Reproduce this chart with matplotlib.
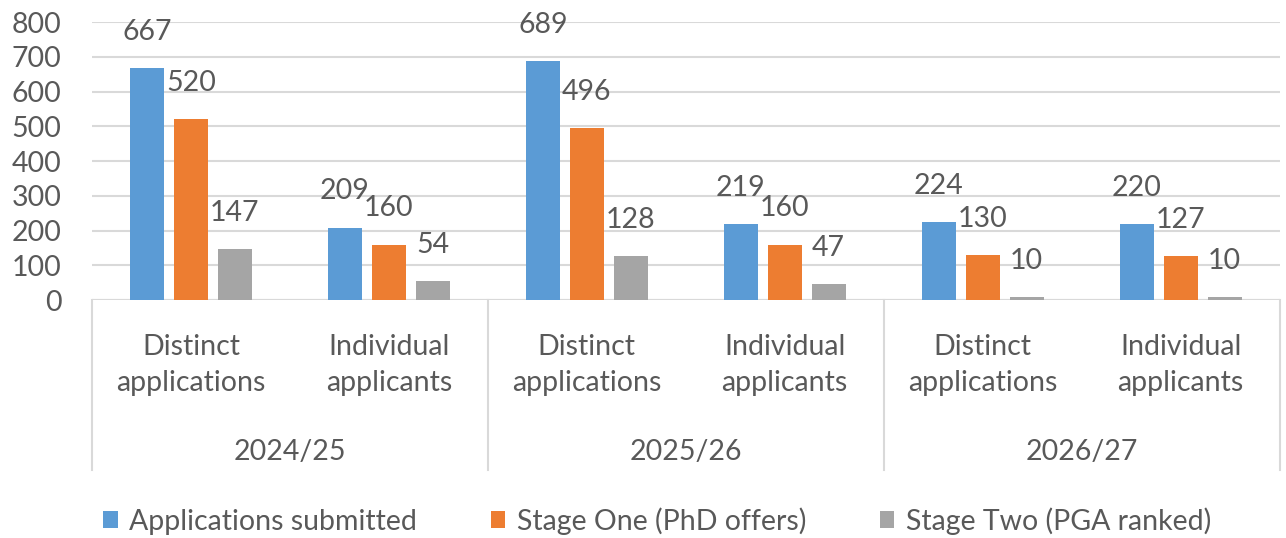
import numpy as np
import matplotlib.pyplot as plt
from matplotlib.transforms import blended_transform_factory

# data
years = ["2024/25", "2025/26", "2026/27"]
kinds = ["Distinct\napplications", "Individual\napplicants"]
series = ["Applications submitted", "Stage One (PhD offers)", "Stage Two (PGA ranked)"]
submitted = [667, 209, 689, 219, 224, 220]
stage_one = [520, 160, 496, 160, 130, 127]
stage_two = [147, 54, 128, 47, 10, 10]
colors = ["#5B9BD5", "#ED7D31", "#A5A5A5"]

txt = "#595959"
line = "#D9D9D9"
fs = 20.5
plt.rcParams['font.family'] = ['Lato', 'DejaVu Sans']

fig = plt.figure(figsize=(12.86, 5.38), dpi=100)
ax = fig.add_axes([0.0715, 0.442, 0.9235, 0.517])

x = np.arange(len(submitted))
width = 0.172
step = 0.222
for i, (vals, name) in enumerate(zip([submitted, stage_one, stage_two], series)):
    pos = x + (i - 1) * step
    ax.bar(pos, vals, width, color=colors[i], label=name, zorder=3)
    for p, v in zip(pos, vals):
        ax.annotate(str(v), (p, v), xytext=(0, 26), textcoords="offset points",
                    ha="center", va="center", fontsize=fs, color=txt, zorder=4)

ax.set_xlim(-0.5, len(submitted) - 0.5)
ax.set_ylim(0, 800)
ax.set_yticks(range(0, 801, 100))
ax.tick_params(axis="y", length=0, labelsize=fs, labelcolor=txt, pad=22)
ax.set_xticks([])
ax.yaxis.grid(True, color=line, linewidth=1.5, zorder=0)
for s in ax.spines.values():
    s.set_visible(False)
ax.axhline(0, color=line, linewidth=1.5, zorder=2)

# two-level category axis
tr = blended_transform_factory(ax.transData, fig.transFigure)
for i in x:
    ax.text(i, 0.322, kinds[i % 2], transform=tr, ha="center", va="center",
            fontsize=fs, color=txt, linespacing=1.5)
for j, y in enumerate(years):
    ax.text(2 * j + 0.5, 0.160, y, transform=tr, ha="center", va="center",
            fontsize=fs, color=txt)
for xs in np.arange(-0.5, len(submitted), 2):
    ax.plot([xs, xs], [0.442, 0.126], transform=tr, color=line, linewidth=1.5,
            clip_on=False)

fig.legend(loc="center", bbox_to_anchor=(0.511, 0.032), ncol=3, frameon=False,
           fontsize=fs, labelcolor=txt, handlelength=0.5, handleheight=0.5,
           handletextpad=0.4, columnspacing=2.6)

fig.savefig("out.png")
